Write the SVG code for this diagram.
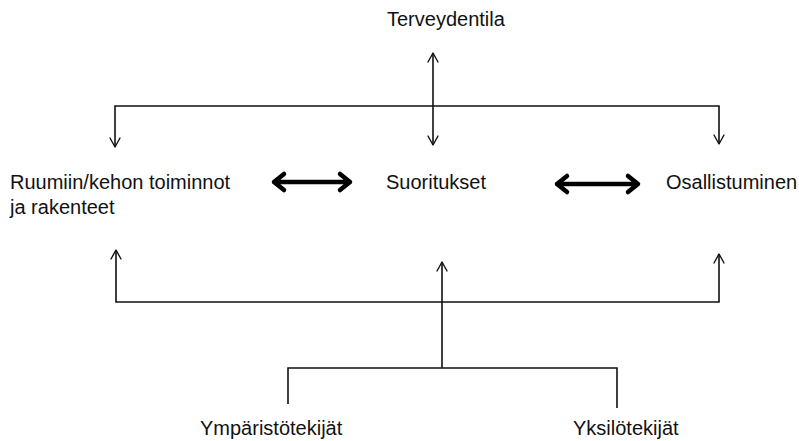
<svg xmlns="http://www.w3.org/2000/svg" width="799" height="441" viewBox="0 0 799 441">
<style>
text{font-family:"Liberation Sans",Arial,sans-serif;font-size:20px;fill:#111}
.ln{fill:none;stroke:#111;stroke-width:1.6}
.ah{fill:none;stroke:#111;stroke-width:1.4;stroke-linecap:round;stroke-linejoin:round}
.big{fill:none;stroke:#000;stroke-width:4.5;stroke-linejoin:round;stroke-linecap:round}
</style>
<rect width="799" height="441" fill="#fff"/>
<g id="terveydentila"><text x="387" y="26">Terveydentila</text></g>
<g id="ruumiin"><text x="10" y="189">Ruumiin/kehon toiminnot</text><text x="10" y="214">ja rakenteet</text></g>
<g id="suoritukset"><text x="386" y="189">Suoritukset</text></g>
<g id="osallistuminen"><text x="666" y="189">Osallistuminen</text></g>
<g id="ymparistotekijat"><text x="200" y="435">Ympäristötekijät</text></g>
<g id="yksilotekijat"><text x="573" y="435">Yksilötekijät</text></g>
<g id="connectors">
<path class="ln" d="M115,147 V106 H719 V144"/>
<path class="ln" d="M433,53 V145"/>
<path class="ah" d="M110,138 L115,147 L120,138"/>
<path class="ah" d="M714,135 L719,144 L724,135"/>
<path class="ah" d="M428,136 L433,145 L438,136"/>
<path class="ah" d="M428,62 L433,53 L438,62"/>
<path class="ln" d="M116,250 V302 H719 V254"/>
<path class="ln" d="M442,262 V368"/>
<path class="ln" d="M288,404 V368 H617 V408"/>
<path class="ah" d="M111,259 L116,250 L121,259"/>
<path class="ah" d="M437,271 L442,262 L447,271"/>
<path class="ah" d="M714,263 L719,254 L724,263"/>
<path class="big" d="M274,182 H350 M284,174 L274,182 L284,190 M340,174 L350,182 L340,190"/>
<path class="big" d="M557,184 H638 M567,176 L557,184 L567,192 M628,176 L638,184 L628,192"/>
</g>
</svg>
